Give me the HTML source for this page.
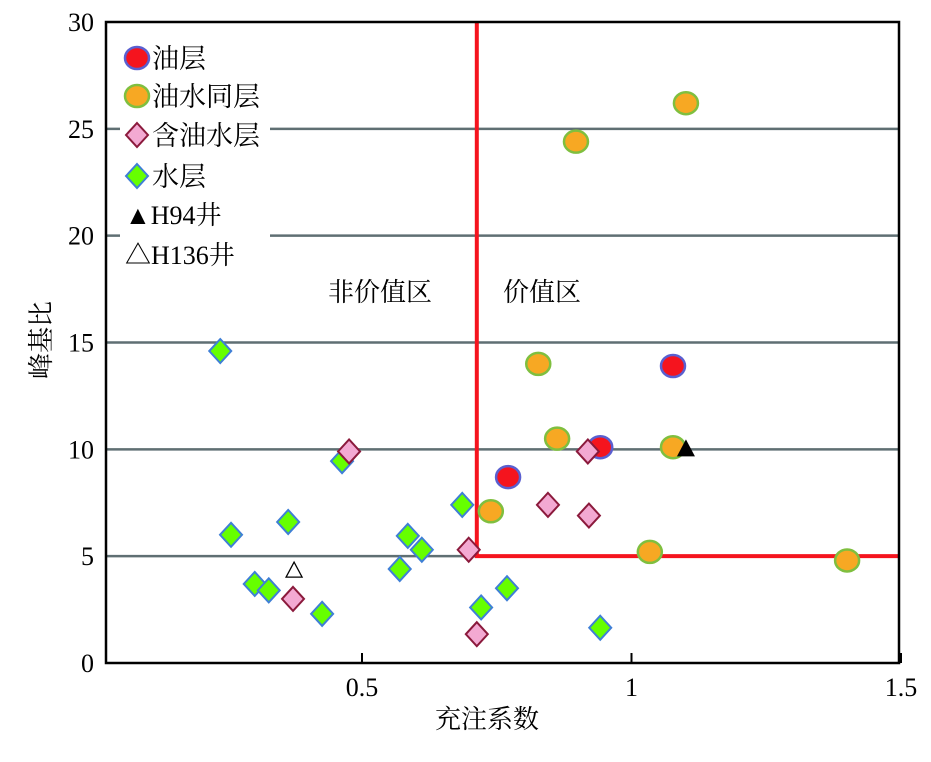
<!DOCTYPE html>
<html><head><meta charset="utf-8"><style>
body{margin:0;background:#fff;}
svg{display:block;font-family:"Liberation Serif","Noto Serif CJK SC",serif;}
</style></head><body>
<svg id="chart" width="931" height="762" viewBox="0 0 931 762">
<g id="grid"></g>
<g id="marks"></g>
<g id="axes"></g>
<g id="legend"></g>
</svg>
<script>
const xTicks=[0.5,1,1.5];
const yTicks=[0,5,10,15,20,25,30];
const oilX=[0.771,0.942,1.077];
const oilY=[8.7,10.1,13.9];
const owX=[1.101,0.897,0.827,0.862,1.077,0.739,1.034,1.400];
const owY=[26.2,24.4,14.0,10.5,10.1,7.1,5.2,4.8];
const cwX=[0.476,0.919,0.845,0.921,0.698,0.372,0.713];
const cwY=[9.9,9.9,7.4,6.9,5.3,3.0,1.35];
const wX=[0.237,0.463,0.686,0.257,0.363,0.585,0.611,0.570,0.301,0.327,0.426,0.769,0.721,0.942];
const wY=[14.6,9.45,7.4,6.0,6.6,5.95,5.3,4.4,3.7,3.4,2.3,3.5,2.6,1.65];
const h94X=[1.101], h94Y=[10.0];
const h136X=[0.374], h136Y=[4.3];
const cutX=0.713, cutY=5;

const L=106,R=899,T=22,B=663;
const X=v=>92.5+539*v;
const Y=v=>B-(v/30)*(B-T);
const NS="http://www.w3.org/2000/svg";
function mk(tag,attrs,parent,text){const e=document.createElementNS(NS,tag);for(const k in attrs)e.setAttribute(k,attrs[k]);if(text!==undefined)e.textContent=text;parent.appendChild(e);return e;}
const grid=document.getElementById('grid'),marks=document.getElementById('marks'),axes=document.getElementById('axes'),leg=document.getElementById('legend');

yTicks.forEach(t=>{if(t>0&&t<30){const l=mk('line',{x1:L,x2:R,y1:Y(t),y2:Y(t),stroke:'#5f6f73','stroke-width':2.5},grid);

}
const tx=mk('text',{x:L-12,y:Y(t)+9,'text-anchor':'end','font-size':26},axes,String(t));

});
xTicks.forEach(t=>{const l=mk('line',{x1:X(t),x2:X(t),y1:B,y2:B-10,stroke:'#000','stroke-width':2},axes);


const tx=mk('text',{x:X(t),y:B+33,'text-anchor':'middle','font-size':26},axes,t===0.5?'0.5':String(t));

});
const frame=mk('rect',{x:L,y:T,width:R-L,height:B-T,fill:'none',stroke:'#000','stroke-width':2.5},axes);


const rv=mk('line',{x1:X(cutX),x2:X(cutX),y1:T,y2:Y(cutY),stroke:'#f5141e','stroke-width':4},marks);


const rh=mk('line',{x1:X(cutX)-2,x2:R,y1:Y(cutY),y2:Y(cutY),stroke:'#f5141e','stroke-width':4},marks);



function circle(cx,cy,fill,stroke,g,name){const c=mk('ellipse',{cx:cx,cy:cy,rx:12,ry:11,fill:fill,stroke:stroke,'stroke-width':2.5},g);

}
function diamond(cx,cy,fill,stroke,g,name){const d=mk('polygon',{points:`${cx},${cy-12} ${cx+11},${cy} ${cx},${cy+12} ${cx-11},${cy}`,fill:fill,stroke:stroke,'stroke-width':2},g);

}
owX.forEach((v,i)=>circle(X(v),Y(owY[i]),'#f7a823','#7fbf3f',marks,'point-oil-water'));
oilX.forEach((v,i)=>circle(X(v),Y(oilY[i]),'#f5141e','#5a5fd0',marks,'point-oil'));
wX.forEach((v,i)=>diamond(X(v),Y(wY[i]),'#66ff00','#3f7fd6',marks,'point-water'));
cwX.forEach((v,i)=>diamond(X(v),Y(cwY[i]),'#f3a9d2','#8b1a3c',marks,'point-oily-water'));
h94X.forEach((v,i)=>{const p=mk('polygon',{points:`${X(v)},${Y(h94Y[i])-10} ${X(v)+9},${Y(h94Y[i])+7} ${X(v)-9},${Y(h94Y[i])+7}`,fill:'#000'},marks);

});
h136X.forEach((v,i)=>{const p=mk('polygon',{points:`${X(v)},${Y(h136Y[i])-9} ${X(v)+8},${Y(h136Y[i])+6} ${X(v)-8},${Y(h136Y[i])+6}`,fill:'none',stroke:'#000','stroke-width':1.3},marks);

});

const lb=mk('rect',{x:120,y:38,width:150,height:232,fill:'#fff'},leg);


const items=[['c','#f5141e','#5a5fd0','油层',58],['c','#f7a823','#7fbf3f','油水同层',96],['d','#f3a9d2','#8b1a3c','含油水层',135],['d','#66ff00','#3f7fd6','水层',176]];
items.forEach(it=>{if(it[0]==='c')circle(137,it[4],it[1],it[2],leg,'legend-marker');else diamond(137,it[4],it[1],it[2],leg,'legend-marker');
const t=mk('text',{x:152,y:it[4]+10,'font-size':27},leg,it[3]);

});
const t1=mk('text',{x:125,y:224,'font-size':26},leg,'▲H94井');


const t2=mk('text',{x:125,y:264,'font-size':26},leg,'△H136井');



const a1=mk('text',{x:380,y:301,'text-anchor':'middle','font-size':26},axes,'非价值区');


const a2=mk('text',{x:542,y:301,'text-anchor':'middle','font-size':26},axes,'价值区');


const xl=mk('text',{x:487,y:728,'text-anchor':'middle','font-size':26},axes,'充注系数');


const yl=mk('text',{x:0,y:0,'text-anchor':'middle','font-size':26,transform:'translate(50,340) rotate(-90)'},axes,'峰基比');


</script>
</body></html>
